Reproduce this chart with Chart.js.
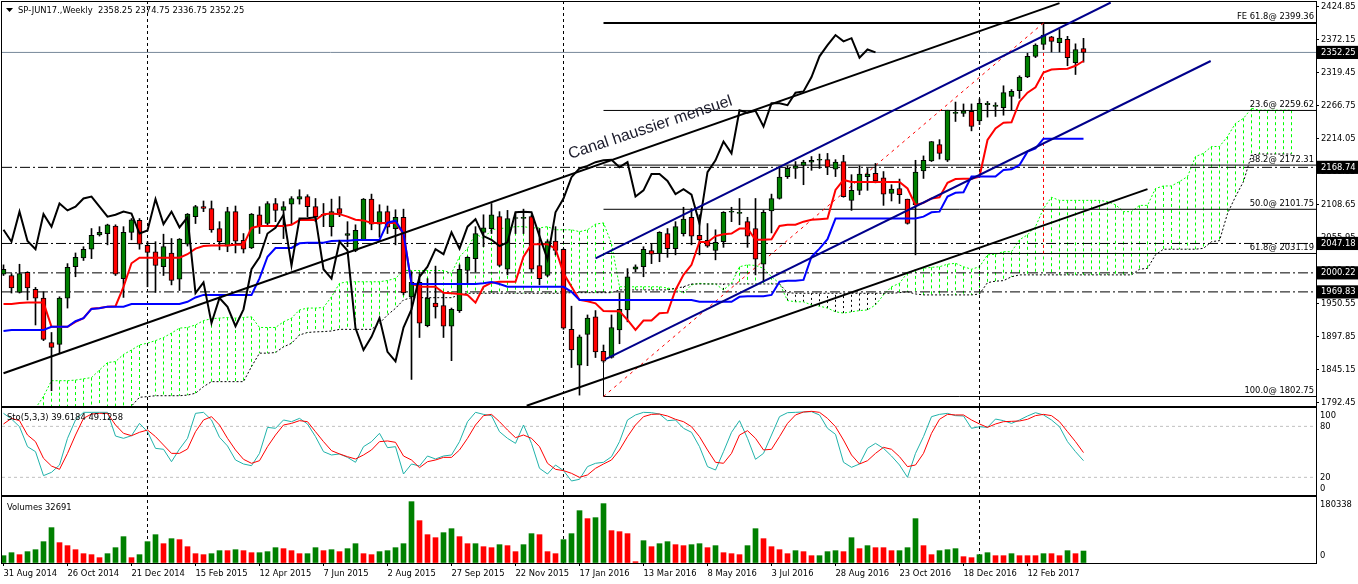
<!DOCTYPE html>
<html><head><meta charset="utf-8">
<script src="https://cdn.jsdelivr.net/npm/chart.js@4/dist/chart.umd.min.js"></script>
<style>
html,body{margin:0;padding:0;background:#fff;width:1358px;height:584px;overflow:hidden}
canvas{position:absolute;left:0;display:block}
</style></head><body>
<canvas id="main" width="1358" height="408" style="top:0"></canvas>
<canvas id="sto" width="1358" height="91" style="top:406px"></canvas>
<canvas id="vol" width="1358" height="89" style="top:495px"></canvas>
<script>
const opens=[1998,1996,1969,2001,1974,1960,1889,1886,1960,2010,2024,2038,2061,2063,2075,1991,2065,2084,2044,2034,2010,2032,1990,2046,2090,2106,2103,2071,2043,2098,2052,2040,2093,2079,2111,2100,2110,2118,2122,2106,2092,2074,2103,2060,2036,2053,2118,2078,2098,2071,2089,1962,1985,1916,1952,1948,1915,1940,2004,2023,2065,2071,2090,2006,2087,2087,2090,2012,1996,2051,2038,1910,1853,1902,1930,1875,1865,1909,1941,2006,2010,2036,2031,2063,2039,2063,2089,2060,2052,2036,2050,2097,2095,2082,2071,2014,2099,2119,2154,2167,2172,2177,2180,2181,2166,2178,2116,2132,2154,2159,2152,2127,2135,2118,2109,2163,2179,2205,2180,2255,2255,2258,2243,2269,2266,2264,2282,2291,2313,2346,2365,2377,2368,2373,2336,2358.25];
const highs=[2013,1999,2014,2002,1977,1970,1905,1962,2015,2032,2042,2071,2074,2078,2077,2074,2087,2087,2050,2050,2062,2055,2055,2095,2108,2115,2115,2082,2105,2107,2063,2095,2106,2114,2119,2114,2122,2133,2125,2119,2111,2118,2122,2082,2077,2119,2126,2109,2107,2101,2102,2002,1999,1991,2011,1968,1944,2013,2026,2074,2093,2111,2098,2100,2096,2102,2093,2071,2053,2074,2039,1947,1901,1933,1940,1885,1933,1968,2007,2013,2042,2047,2066,2071,2082,2105,2103,2093,2079,2069,2098,2105,2119,2089,2119,2100,2126,2170,2171,2178,2180,2186,2190,2191,2181,2188,2157,2171,2167,2175,2162,2141,2150,2118,2180,2187,2210,2213,2260,2273,2270,2270,2278,2274,2272,2299,2293,2315,2351,2366,2398,2378,2389,2378,2366,2374.75];
const lows=[1996,1968,1968,1957,1917,1892,1812,1872,1944,1994,2020,2023,2059,2045,1996,1961,2053,2038,1978,1969,1996,1981,1972,2043,2079,2098,2065,2037,2034,2032,2032,2039,2063,2074,2082,2055,2077,2110,2090,2082,2074,2059,2090,2042,2034,2052,2069,2057,2063,2045,1965,1830,1897,1914,1928,1897,1860,1937,1984,2002,2042,2063,2010,1997,2063,2063,2002,1981,1994,2029,1910,1849,1805,1852,1865,1857,1864,1887,1922,2002,1994,2015,2018,2025,2029,2059,2045,2029,2041,2021,2041,2082,2077,2041,1997,1986,2064,2118,2151,2151,2141,2164,2167,2157,2154,2121,2100,2125,2132,2144,2108,2115,2111,2078,2029,2151,2178,2182,2178,2242,2250,2227,2237,2249,2250,2252,2260,2279,2312,2344,2357,2353,2353,2331,2317,2336.75];
const closes=[2006,1976,1999,1976,1960,1894,1881,1960,2009,2025,2038,2060,2065,2077,1998,2065,2085,2046,2033,2012,2042,1988,2054,2094,2106,2103,2069,2050,2098,2051,2038,2094,2074,2111,2100,2106,2119,2122,2106,2090,2093,2098,2095,2063,2068,2118,2078,2098,2073,2089,1968,1985,1920,1960,1946,1915,1942,2006,2025,2063,2072,2093,2012,2087,2087.5,2089,2006,1991,2050,2036,1912,1877,1898,1928,1874,1859,1913,1942,1994,2010,2038,2030,2065,2039,2074,2086,2059,2053,2043,2049,2097,2098,2097,2059,2022,2097,2119,2153,2167,2171,2177,2180,2181,2169,2177,2122,2132,2158,2158,2147,2126,2134,2125,2079,2161,2180,2210,2191,2260,2256,2259,2234,2271,2271,2268,2288,2290,2313,2346,2364,2380,2370,2375,2344,2357,2352.25];
const tenkan=[1950.5,1950.5,1952,1952.7,1952.7,1952.7,1914,1914,1914,1922,1928,1943,1944,1946,1947,1978,2015.5,2024.5,2024.5,2024.5,2024.5,2024.5,2024.5,2030,2039,2043,2044,2044,2044,2045,2045,2072,2075,2075,2075,2075,2077,2084.5,2084.5,2084.5,2094,2095,2094,2090,2085,2084,2080,2080,2080,2080,2063,1983,1978,1978,1978,1968.5,1967.6,1966.5,1965,1952.7,1978,1984.6,1986,1986,1986,2026,2046,2046,2046,2039,1999.5,1978,1957,1955,1951.6,1939.4,1939,1939,1925,1909,1924,1924,1935.6,1936.7,1973,1997,2013,2050,2049,2059,2062,2063,2071,2071,2053,2053,2054,2075,2077,2077,2082,2085,2086,2087,2132.6,2148.6,2145.4,2145.4,2145.4,2145.4,2145.4,2145.4,2145.4,2135,2108.6,2112,2119,2121,2144,2150,2150.7,2150.7,2154,2212.4,2231,2240,2240.6,2273.6,2288,2296.5,2320,2325,2325.8,2326.3,2331,2338.6];
const kijun=[1907.4,1909,1909,1909,1909,1909,1914,1914,1914,1923,1927.7,1942.6,1943.6,1946.3,1946.3,1946.3,1950.5,1950.5,1950.5,1950.5,1950.5,1950.5,1950.5,1954,1961,1965,1965,1965,1965,1965,1965,1965,1991.5,2026,2040,2040,2040,2047.4,2048.5,2048.5,2048.5,2051,2051.7,2051.7,2052.7,2052.7,2052.7,2052.7,2080.4,2083.6,2063,1982.5,1982.5,1982.5,1982.5,1982.5,1982.5,1982.5,1982.5,1982.5,1983.5,1985.7,1982.5,1978,1978,1978,1978,1978,1978,1978,1978,1970,1957,1957,1957,1957,1957,1957,1957,1957,1957,1957,1957,1957,1957,1957,1957,1954,1954,1954,1954,1954,1962,1963,1963,1963,1965,1986,1987.8,1987.8,1989,2026,2039,2054,2087,2087,2087,2087,2087,2087,2087,2087,2087,2087,2087,2090,2097,2098,2122,2128,2129,2154,2154,2154,2154,2164.5,2165.6,2172.5,2193.8,2199,2214.6,2214.6,2214.6,2214.6,2214.6,2214.6];
const chikou=[2069,2050,2098,2051,2038,2094,2074,2111,2100,2106,2119,2122,2106,2090,2093,2098,2095,2063,2068,2118,2078,2098,2073,2089,1968,1985,1920,1960,1946,1915,1942,2006,2025,2063,2072,2093,2012,2087,2087.5,2089,2006,1991,2050,2036,1912,1877,1898,1928,1874,1859,1913,1942,1994,2010,2038,2030,2065,2039,2074,2086,2059,2053,2043,2049,2097,2098,2097,2059,2022,2097,2119,2153,2167,2171,2177,2180,2181,2169,2177,2122,2132,2158,2158,2147,2126,2134,2125,2079,2161,2180,2210,2191,2260,2256,2259,2234,2271,2271,2268,2288,2290,2313,2346,2364,2380,2370,2375,2344,2357,2352.25];
const cloudStart=4;
const spanA=[1784,1803,1828,1828,1828,1829,1831,1833,1845,1857,1858.5,1870,1877,1885,1888,1892,1897,1904,1912,1913,1917,1924,1927,1928,1929,1928,1929,1930,1913,1913,1913,1922,1928,1941,1944,1944,1945,1962,1983.5,1986,1986,1986,1986,1986,1988,1991.5,2004,2004,2004,2004,2004,2004,1999.5,2026,2039,2063,2055,2069,2071,2072,2074,2074,2072,2072,2074,2069,2069,2069,2066,2069,2078,2080,2047,1978,1978,1978,1978,1978,1978,1976,1974,1968,1981,1983.5,1982.5,1982.5,1973,1983.5,2010,2013,2012,2007.5,1994,1983.5,1956,1954,1954,1949,1947,1944,1938,1936,1938,1940,1941,1949,1965,1978,1983.5,2000.6,2005,2007.5,2009,2010,2014,2015.5,2010,2006,2010,2029,2030,2034,2034,2053,2061,2074,2103,2121,2116,2116,2116,2116,2116,2116,2114,2109,2098,2098,2108,2108,2135,2139,2139,2146,2154,2186,2191,2202,2202,2218,2239,2247,2263,2260,2260,2260,2260,2260];
const spanB=[1760,1760,1760,1760,1760,1760,1760,1760,1760,1760,1760,1760,1787.6,1801.5,1802.6,1804,1804,1804,1804,1805,1808,1818.5,1826.5,1826.5,1826.5,1826.5,1826.5,1850.5,1872,1872,1873,1882,1887.7,1901,1905,1906,1906.4,1907.4,1910,1910,1910,1910,1910,1919.7,1933,1943.6,1957,1960.6,1960.6,1960.6,1960.6,1960.6,1960.6,1965,1967.6,1967.6,1967.6,1967.6,1967.6,1967.6,1967.6,1967.6,1967.6,1967.6,1967.6,1967.6,1967.6,1968.6,1968.6,1968.6,1968.6,1968.6,1968.6,1973,1973,1973,1973,1973,1973,1973,1975.6,1978,1982.5,1982.5,1982.5,1982.5,1982.5,1982.5,1982.5,1982.5,1982.5,1982.5,1982.5,1982.5,1968.6,1967.6,1967.6,1967.6,1967.6,1967.6,1967.6,1967.6,1967.6,1967.6,1967.6,1967.6,1967.6,1967.6,1968.6,1970,1966.5,1965,1965,1965,1965,1965,1965,1965,1966.5,1984.6,1987,1987.8,1994,1997,1997,1997,1997,1997,1997,1997,1997,1997,1997,1997,1997,1997,1997,1997,2006,2007.5,2029,2038,2038,2038,2038,2038,2039.4,2050,2051.7,2095,2122,2146,2188.5,2190,2190,2190,2190,2190];
const stoMain=[95.3,88.6,79.6,56.1,50.2,22,25.9,34.5,65.9,87.5,96.5,96.5,96.5,96.5,68.6,65.9,69,83.5,73.7,54.1,53,38.4,53.3,65.9,95.3,96.5,87.5,67.1,56.9,40.4,35.7,33.7,48.2,78.8,77.7,87.5,85.5,89.4,82.8,67.9,50.2,46.3,47.5,43.5,37.7,56.1,62,71.8,54.9,56.1,23.9,35.7,33.3,45.1,41.6,45.1,46.3,62,85.5,96.5,94.1,92.6,73.7,65.9,60,81.6,60,30.6,23.9,34.5,27.9,15.7,17.7,32.6,36.5,37.7,44.3,62,87.5,93.4,96.5,96.1,94.5,86.7,87.5,77.7,73,56.1,32.6,28.6,50.2,73,86.7,65.9,41.2,48.2,69.8,91.4,96.1,96.5,96.9,97.3,93.4,77.7,70.6,37.7,31.8,35.7,54.1,60,54.1,45.1,34.5,20,48.2,67.9,91.4,94.1,95.3,92.6,92.2,77.7,79.6,78.8,88.6,86.7,83.5,87.5,92.2,96.1,93.4,87.5,79.6,62,50.2,39.6];
const stoSignal=[82.8,89.4,86.7,69.8,62,42.4,33.3,29.4,48.2,69.8,89.4,94.5,95.3,95.3,81.6,71.8,69,73,75.7,67.9,58,48.2,48.2,53.3,73.7,87.5,91.4,81.6,65.9,52.2,41.2,36.5,39.6,56.1,69.8,81.6,83.5,86.7,85.5,73.7,62,51.4,47.5,44.3,41.6,46.3,52.2,62,62.8,61.2,45.1,40.4,31.4,38.4,40.4,43.5,43.5,52.2,65.9,81.6,92.6,94.1,85.5,75.7,66.7,69.8,65.9,56.1,36.5,29.4,27.9,24.7,20,22.8,30.6,35.7,40.4,52.2,67.9,81.6,91.4,94.1,94.5,92.2,88.3,85.5,79.6,67.9,52.2,37.7,36.5,48.2,69.8,74.9,65.9,52.2,53,67.9,83.5,93.4,96.9,97.7,96.5,89.4,79.6,63.9,46.3,35.7,39.6,48.2,55.3,53,44.3,32.6,34.5,48.2,71.8,88.3,94.1,93.4,93.4,87.5,82.8,78.8,82.8,85.5,85.9,86.3,88.3,92.6,94.1,92.6,85.5,73.7,62,49.1];
const volumes=[20000,28200,22800,31000,36400,58300,96600,55600,47400,36400,25500,22800,14600,25500,41900,72000,14600,22800,58300,77400,52800,66500,63800,44600,25500,22800,25500,33700,33700,36400,33700,28200,28200,31000,41900,39200,33700,25500,25500,41900,33700,36400,31000,39200,52800,25500,22800,31000,33700,41900,52800,167600,115700,77400,69200,82900,93800,72000,52800,52800,44600,41900,50100,47400,31000,50100,80200,77400,31000,25500,63800,80200,143000,121200,123900,162200,88400,85600,80200,3600,61000,44600,52800,58300,50100,47400,50100,52800,41900,47400,28200,25500,22800,47400,93800,66500,44600,36400,25500,33700,31000,20000,20000,31000,33700,31000,69200,39200,47400,41900,41900,33700,33700,41900,121200,47400,22800,33700,36400,39200,17300,14600,22800,28200,20000,20000,25500,20000,20000,20000,25500,25500,20000,33700,25500,32691];
const volumeRising=[1,1,0,1,1,1,1,0,0,0,0,0,0,1,1,1,0,1,1,1,0,1,0,0,0,0,1,1,0,1,0,0,1,1,1,0,0,0,1,1,0,1,0,1,1,0,0,1,1,1,1,1,0,0,0,1,1,0,0,1,0,0,1,0,0,1,1,0,0,0,1,1,1,0,1,1,0,0,0,0,1,0,1,1,0,0,1,1,0,1,0,0,0,1,1,0,0,0,0,1,0,0,1,1,1,0,1,0,1,0,0,0,1,1,1,0,0,1,1,1,0,0,1,1,0,0,1,0,0,0,1,0,0,1,0,1];
const priceTicks=[2424.85,2372.15,2319.45,2266.75,2214.05,2161.35,2108.65,2055.95,2003.25,1950.55,1897.85,1845.15,1792.45];
const boxedPrices=[2352.25,2168.74,2047.18,2000.22,1969.83];
const dashDotLevels=[2168.74,2047.18,2000.22,1969.83];
const bidPrice=2352.25;
const fiboStart=75, fiboEnd=130;
const fiboLevels=[2399.36,2259.62,2172.31,2101.75,2031.19,1802.75];
const fiboLabels=["FE 61.8@ 2399.36","23.6@ 2259.62","38.2@ 2172.31","50.0@ 2101.75","61.8@ 2031.19","100.0@ 1802.75"];
const yearSeparators=[18,70,122];
const channelBlackUpper=[[0,1840],[132,2431]];
const channelBlackLower=[[65.4,1788],[143,2134]];
const channelBlueUpper=[[74,2023.5],[138.4,2432]];
const channelBlueLower=[[75.2,1862],[150.9,2338.6]];
const channelNote="Canal haussier mensuel";
const noteAnchor=[80.85,2232];
const dateLabels=["31 Aug 2014","26 Oct 2014","21 Dec 2014","15 Feb 2015","12 Apr 2015","7 Jun 2015","2 Aug 2015","27 Sep 2015","22 Nov 2015","17 Jan 2016","13 Mar 2016","8 May 2016","3 Jul 2016","28 Aug 2016","23 Oct 2016","18 Dec 2016","12 Feb 2017"];
const dateTickIndex=[0,8,16,24,32,40,48,56,64,72,80,88,96,104,112,120,128];
const stoTicks=[100,80,20,0];
const stoLevels=[80,20];
const volTicks=[180338,0];
const titleText="SP-JUN17.,Weekly  2358.25 2374.75 2336.75 2352.25";
const stoText="Sto(5,3,3) 39.6184 49.1258";
const volText="Volumes 32691";

const FF='"DejaVu Sans Condensed","Liberation Sans"',FS=9.3;
const FONT=FS+'px '+FF;
const GREEN='#008000',RED='#ff0000',NAVY='#00008b',BLUE='#0000ff',LIME='#00ff00';
const XMIN=-0.1875,XMAX=164.0625;
const seg=(pts)=>pts.map(p=>({x:p[0],y:p[1]}));
const line=(data,color,width,dash)=>({type:'line',data,borderColor:color,borderWidth:width,borderDash:dash||[],pointRadius:0,tension:0,fill:false,spanGaps:false,clip:true});
const series=(arr,start)=>arr.map((y,i)=>({x:i+(start||0),y}));
const idx=closes.map((_,i)=>i);

const hatchGreen=[],hatchBlack=[];
spanA.forEach((a,k)=>{const b=spanB[k],x=k+cloudStart,t=a>=b?hatchGreen:hatchBlack;t.push({x,y:a},{x,y:b},{x,y:null});});

function withOrder(ds){return ds.map((d,i)=>Object.assign(d,{order:-i}));}
const tickFont={family:FF,size:FS};
function yAxis(min,max,list,extra){
  return Object.assign({type:'linear',position:'right',min,max,
    afterFit:s=>{s.width=42;s.paddingTop=0;s.paddingBottom=0;},
    afterBuildTicks:s=>{s.ticks=list.map(v=>({value:v}));},
    border:{display:true,color:'#000'},
    grid:{drawOnChartArea:false,drawTicks:true,tickLength:3,color:'#000'},
    ticks:{autoSkip:false,maxRotation:0,padding:2,font:tickFont,color:'#000',callback:()=>''}
  },extra||{});
}
const xHidden={type:'linear',display:false,min:XMIN,max:XMAX,offset:false,grid:{offset:false}};
function frame(){return {id:'frame',afterDraw(c){const a=c.chartArea,g=c.ctx;g.save();g.strokeStyle='#000';g.lineWidth=1;g.strokeRect(a.left-.5,a.top-.5,a.right-a.left+1,a.bottom-a.top+1);g.restore();}};}
function texts(fn){return {id:'texts',afterDraw(c){const g=c.ctx;g.save();g.font=FONT;g.fillStyle='#000';g.textBaseline='middle';fn(c,g);g.restore();}};}

const baseOpts=(scales,padding)=>({responsive:false,animation:false,devicePixelRatio:1,events:[],layout:{padding},
  plugins:{legend:{display:false},tooltip:{enabled:false}},scales});

// main price panel
const PMAX=2432.8,PMIN=1787.6;
const mainSets=withOrder([
  line(hatchGreen,LIME,1,[3,3]),
  line(hatchBlack,'#000',1,[2,3]),
  line(series(spanA,cloudStart),LIME,1,[2,2]),
  line(series(spanB,cloudStart),'#000',1,[2,2]),
  ...yearSeparators.map(x=>line(seg([[x,PMIN],[x,PMAX]]),'#000',1,[3,3])),
  line(seg([[XMIN,bidPrice],[XMAX,bidPrice]]),'#778899',1),
  ...dashDotLevels.map(v=>line(seg([[XMIN,v],[XMAX,v]]),'#000',1,[10,3,2,3])),
  ...fiboLevels.map((v,i)=>line(seg([[fiboStart,v],[XMAX,v]]),'#000',i===0?2:1)),
  line(seg([[fiboStart,fiboLevels[5]],[fiboStart,lows[fiboStart]]]),'#000',1),
  line(seg([[fiboStart,fiboLevels[5]],[fiboEnd,fiboLevels[0]]]),RED,1,[3,4]),
  line(seg([[fiboEnd,fiboLevels[0]],[fiboEnd,fiboLevels[4]]]),RED,1,[3,3]),
  {type:'bar',data:idx.map(i=>({x:i,y:[lows[i],highs[i]]})),backgroundColor:'#000',barThickness:1,grouped:false,borderWidth:0},
  {type:'bar',data:idx.map(i=>({x:i,y:[opens[i],closes[i]]})),backgroundColor:idx.map(i=>closes[i]>=opens[i]?GREEN:RED),borderColor:'#000',borderWidth:1,borderSkipped:false,barThickness:5,minBarLength:1,grouped:false},
  line(series(tenkan),RED,2),
  line(series(kijun),BLUE,2),
  line(series(chikou),'#000',2),
  line(seg(channelBlackUpper),'#000',2),
  line(seg(channelBlackLower),'#000',2),
  line(seg(channelBlueUpper),NAVY,2),
  line(seg(channelBlueLower),NAVY,2)
]);
const mainTicks=[...priceTicks,...boxedPrices];
new Chart(document.getElementById('main'),{type:'bar',data:{datasets:mainSets},
  options:baseOpts({
    x:xHidden,
    y:yAxis(PMIN,PMAX,mainTicks,{ticks:{autoSkip:false,maxRotation:0,padding:2,font:tickFont,
      callback:v=>v.toFixed(2),
      color:c=>boxedPrices.includes(c.tick.value)?'#fff':'#000',
      showLabelBackdrop:c=>boxedPrices.includes(c.tick.value),
      backdropColor:'#000',backdropPadding:{x:4,y:1}}})
  },{left:2,top:2,bottom:2}),
  plugins:[frame(),texts((c,g)=>{
    const x=c.scales.x,y=c.scales.y;
    g.textAlign='left';
    g.beginPath();g.moveTo(6,8);g.lineTo(13,8);g.lineTo(9.5,12);g.closePath();g.fill();
    g.fillText(titleText,18,10.5);
    g.textAlign='right';
    fiboLevels.forEach((v,i)=>g.fillText(fiboLabels[i],c.chartArea.right-2,y.getPixelForValue(v)-6));
    g.save();
    g.translate(x.getPixelForValue(noteAnchor[0]),y.getPixelForValue(noteAnchor[1]));
    g.rotate(-18.4*Math.PI/180);
    g.textAlign='center';g.font='16px "Liberation Sans"';g.fillStyle='#1a1a2a';
    g.fillText(channelNote,0,0);
    g.restore();
  })]});

// stochastic panel
const SMAX=101.6,SMIN=-0.8;
const stoOffset={100:6.5,80:0,20:0,0:-6};
new Chart(document.getElementById('sto'),{type:'bar',data:{datasets:withOrder([
  ...stoLevels.map(v=>line(seg([[XMIN,v],[XMAX,v]]),'#c0c0c0',1,[3,3])),
  ...yearSeparators.map(x=>line(seg([[x,SMIN],[x,SMAX]]),'#000',1,[3,3])),
  line(series(stoMain),'#20b2aa',1),
  line(series(stoSignal),RED,1)
])},options:baseOpts({
    x:xHidden,
    y:yAxis(SMIN,SMAX,stoTicks,{grid:{drawOnChartArea:false,drawTicks:false},ticks:{display:false}})
  },{left:2,top:2,bottom:2}),
  plugins:[frame(),texts((c,g)=>{
    g.textAlign='left';g.fillText(stoText,7,11.5);
    stoTicks.forEach(v=>g.fillText(String(v),1320,c.scales.y.getPixelForValue(v)+stoOffset[v]));
  })]});

// volume panel
const volOffset={180338:8,0:-7};
new Chart(document.getElementById('vol'),{type:'bar',data:{datasets:withOrder([
  ...yearSeparators.map(x=>line(seg([[x,0],[x,volTicks[0]]]),'#000',1,[3,3])),
  {type:'bar',data:idx.map(i=>({x:i,y:volumes[i]})),backgroundColor:volumeRising.map(u=>u?GREEN:RED),barThickness:5,grouped:false,borderWidth:0}
])},options:baseOpts({
    x:{type:'linear',min:XMIN,max:XMAX,offset:false,
      afterFit:s=>{s.height=21;s.paddingLeft=0;s.paddingRight=0;},
      afterBuildTicks:s=>{s.ticks=dateTickIndex.map(v=>({value:v}));},
      border:{display:true,color:'#000'},
      grid:{offset:false,drawOnChartArea:false,drawTicks:true,tickLength:3,color:'#000'},
      ticks:{autoSkip:false,maxRotation:0,align:'start',padding:2,font:tickFont,color:'#000',
        callback:v=>dateLabels[dateTickIndex.indexOf(v)]}},
    y:yAxis(0,volTicks[0],volTicks,{grid:{drawOnChartArea:false,drawTicks:false},ticks:{display:false}})
  },{left:2,top:2}),
  plugins:[frame(),texts((c,g)=>{
    g.textAlign='left';g.fillText(volText,7,12.5);
    volTicks.forEach(v=>g.fillText(String(v),1320,c.scales.y.getPixelForValue(v)+volOffset[v]));
  })]});
</script>
</body></html>
